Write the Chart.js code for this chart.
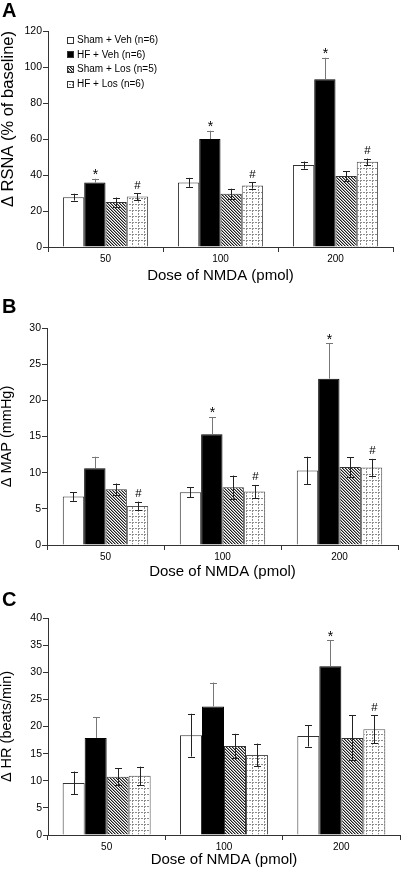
<!DOCTYPE html>
<html>
<head>
<meta charset="utf-8">
<script src="https://cdn.jsdelivr.net/npm/chart.js@4.4.1/dist/chart.umd.min.js"></script>
<style>
  html, body { margin: 0; padding: 0; background: #fff; }
  body { width: 406px; height: 872px; position: relative; overflow: hidden; font-family: "Liberation Sans", Arial, sans-serif; }
  .panel { position: absolute; left: 0; width: 406px; }
  .letter { position: absolute; left: 2px; font-weight: bold; font-size: 20px; line-height: 20px; color: #000; font-family: "Liberation Sans", Arial, sans-serif; }
</style>
</head>
<body>
<div class="panel" style="top:0;height:288px"><canvas id="cA" width="406" height="288"></canvas></div>
<div class="panel" style="top:288px;height:296px"><canvas id="cB" width="406" height="296"></canvas></div>
<div class="panel" style="top:584px;height:288px"><canvas id="cC" width="406" height="288"></canvas></div>
<div class="letter" style="top:0px">A</div>
<div class="letter" style="top:296px">B</div>
<div class="letter" style="top:589px">C</div>
<script>
// ---------------- DATA ----------------
const doses = ['50', '100', '200'];
const groupLabels = ['Sham + Veh (n=6)', 'HF + Veh (n=6)', 'Sham + Los (n=5)', 'HF + Los (n=6)'];

// Panel A: Δ RSNA (% of baseline)
const rsnaShamVeh    = [27.7, 35.9, 45.5];
const rsnaShamVehErr = [1.9, 2.5, 2.0];
const rsnaHFVeh      = [35.8, 60.0, 93.2];
const rsnaHFVehErr   = [2.1, 4.6, 11.9];
const rsnaShamLos    = [25.0, 29.6, 39.5];
const rsnaShamLosErr = [2.5, 2.8, 2.6];
const rsnaHFLos      = [28.0, 34.2, 47.3];
const rsnaHFLosErr   = [2.0, 1.8, 1.8];
const rsnaMarksHFVeh = ['*', '*', '*'];
const rsnaMarksHFLos = ['#', '#', '#'];

// Panel B: Δ MAP (mmHg)
const mapShamVeh    = [6.7, 7.3, 10.3];
const mapShamVehErr = [0.6, 0.7, 1.9];
const mapHFVeh      = [10.6, 15.3, 23.0];
const mapHFVehErr   = [1.6, 2.4, 4.9];
const mapShamLos    = [7.7, 8.0, 10.8];
const mapShamLosErr = [0.8, 1.6, 1.35];
const mapHFLos      = [5.4, 7.4, 10.7];
const mapHFLosErr   = [0.6, 0.9, 1.2];
const mapMarksHFVeh = ['', '*', '*'];
const mapMarksHFLos = ['#', '#', '#'];

// Panel C: Δ HR (beats/min)
const hrShamVeh    = [9.6, 18.4, 18.25];
const hrShamVehErr = [2.1, 3.95, 1.95];
const hrHFVeh      = [17.9, 23.7, 31.1];
const hrHFVehErr   = [3.8, 4.4, 4.8];
const hrShamLos    = [10.75, 16.4, 17.9];
const hrShamLosErr = [1.6, 2.25, 4.15];
const hrHFLos      = [10.9, 14.75, 19.5];
const hrHFLosErr   = [1.7, 2.1, 2.55];
const hrMarksHFVeh = ['', '', '*'];
const hrMarksHFLos = ['', '', '#'];

// ---------------- PATTERNS ----------------
function hatchPattern() {
  const c = document.createElement('canvas'); c.width = 3; c.height = 3;
  const g = c.getContext('2d');
  g.fillStyle = '#ffffff'; g.fillRect(0, 0, 3, 3);
  for (let i = 0; i < 3; i++) {
    g.fillStyle = '#1e1e1e'; g.fillRect(i, i, 1, 1);
    g.fillStyle = '#9a9a9a'; g.fillRect((i + 1) % 3, i, 1, 1);
  }
  return g.createPattern(c, 'repeat');
}
function gridPattern() {
  const n = 6;
  const c = document.createElement('canvas'); c.width = n; c.height = n;
  const g = c.getContext('2d');
  g.fillStyle = '#ffffff'; g.fillRect(0, 0, n, n);
  g.fillStyle = '#8c8c8c';
  [0, 1, 3, 4].forEach(i => { g.fillRect(i, 0, 1, 1); g.fillRect(0, i, 1, 1); });
  return g.createPattern(c, 'repeat');
}
const HATCH = hatchPattern();
const GRID = gridPattern();

const FONT = '"Liberation Sans", Arial, sans-serif';
const AXIS = '#333333';

// ---------------- PLUGINS ----------------
const errorBarPlugin = {
  id: 'errorBars',
  afterDatasetsDraw(chart) {
    const ctx = chart.ctx;
    const ys = chart.scales.y;
    chart.data.datasets.forEach((ds, di) => {
      const meta = chart.getDatasetMeta(di);
      meta.data.forEach((bar, i) => {
        const v = ds.data[i], e = ds.errors[i];
        const x = Math.round(bar.x) + 0.5;
        const yTop = ys.getPixelForValue(v + e);
        const yBot = ds.upOnly ? bar.y : ys.getPixelForValue(v - e);
        ctx.save();
        ctx.strokeStyle = ds.errColor;
        ctx.lineWidth = 1;
        ctx.beginPath();
        ctx.moveTo(x, yTop); ctx.lineTo(x, yBot);
        ctx.moveTo(x - 3.5, Math.round(yTop) + 0.5); ctx.lineTo(x + 3.5, Math.round(yTop) + 0.5);
        if (!ds.upOnly) { ctx.moveTo(x - 3.5, Math.round(yBot) + 0.5); ctx.lineTo(x + 3.5, Math.round(yBot) + 0.5); }
        ctx.stroke();
        const m = ds.marks ? ds.marks[i] : '';
        if (m) {
          ctx.fillStyle = '#000';
          ctx.textAlign = 'center';
          ctx.textBaseline = 'alphabetic';
          if (m === '*') { ctx.font = '14px ' + FONT; ctx.fillText(m, x, yTop + 0.5); }
          else { ctx.font = '11.5px ' + FONT; ctx.fillText(m, x, yTop - 4.5); }
        }
        ctx.restore();
      });
    });
  }
};

const legendPlugin = {
  id: 'panelLegend',
  afterDraw(chart, args, opts) {
    if (!opts || !opts.show) return;
    const ctx = chart.ctx;
    ctx.save();
    chart.data.datasets.forEach((ds, i) => {
      const cy = opts.y0 + i * opts.dy;
      const bx = opts.x, s = 7;
      ctx.fillStyle = ds.backgroundColor;
      ctx.fillRect(bx, Math.round(cy - s / 2), s, s);
      ctx.strokeStyle = '#333';
      ctx.lineWidth = 1;
      ctx.strokeRect(bx + 0.5, Math.round(cy - s / 2) + 0.5, s - 1, s - 1);
      ctx.fillStyle = '#000';
      ctx.font = '10px ' + FONT;
      ctx.textAlign = 'left';
      ctx.textBaseline = 'middle';
      ctx.fillText(ds.label, bx + 10, cy);
    });
    ctx.restore();
  }
};

// ---------------- BUILDER ----------------
function makeDatasets(vals, errs, marksHFVeh, marksHFLos) {
  return [
    { label: groupLabels[0], data: vals[0], errors: errs[0], backgroundColor: '#ffffff', borderColor: '#333333', errColor: '#222', marks: null },
    { label: groupLabels[1], data: vals[1], errors: errs[1], backgroundColor: '#000000', borderColor: '#000000', errColor: '#777', upOnly: true, marks: marksHFVeh },
    { label: groupLabels[2], data: vals[2], errors: errs[2], backgroundColor: HATCH, borderColor: '#333333', errColor: '#222', marks: null },
    { label: groupLabels[3], data: vals[3], errors: errs[3], backgroundColor: GRID, borderColor: '#555555', errColor: '#222', marks: marksHFLos }
  ].map(d => Object.assign(d, { borderWidth: 1, borderSkipped: 'bottom' }));
}

function makeChart(id, cfg) {
  return new Chart(document.getElementById(id), {
    type: 'bar',
    data: { labels: doses, datasets: cfg.datasets },
    plugins: [errorBarPlugin, legendPlugin],
    options: {
      responsive: false,
      animation: false,
      devicePixelRatio: 1,
      layout: { padding: { top: cfg.padTop, right: cfg.padRight, left: 0, bottom: 0 } },
      datasets: { bar: { categoryPercentage: cfg.catPct, barPercentage: 1.0 } },
      plugins: {
        legend: { display: false },
        tooltip: { enabled: false },
        panelLegend: cfg.legend || { show: false }
      },
      scales: {
        x: {
          type: 'category',
          offset: true,
          afterFit: (s) => { s.height = cfg.xH; },
          grid: { display: true, drawOnChartArea: false, drawTicks: true, tickLength: 5, offset: true, color: AXIS },
          border: { display: true, color: AXIS, width: 1 },
          ticks: { color: '#000', font: { family: FONT, size: 10 }, padding: 1 },
          title: { display: true, text: 'Dose of NMDA (pmol)', color: '#000', font: { family: FONT, size: 15, lineHeight: 1.2 }, padding: { top: 0, bottom: 3 } }
        },
        y: {
          min: 0, max: cfg.yMax,
          afterFit: (s) => { s.width = cfg.yW; },
          grid: { display: true, drawOnChartArea: false, drawTicks: true, tickLength: 5, color: AXIS },
          border: { display: true, color: AXIS, width: 1 },
          ticks: { stepSize: cfg.step, color: '#000', font: { family: FONT, size: 10.5 }, padding: 1 },
          title: { display: true, text: cfg.yTitle, align: cfg.yAlign, color: '#000', font: { family: FONT, size: cfg.yTitleSize, lineHeight: 1.0 }, padding: { top: 0, bottom: 0 } }
        }
      }
    }
  });
}

makeChart('cA', {
  datasets: makeDatasets([rsnaShamVeh, rsnaHFVeh, rsnaShamLos, rsnaHFLos], [rsnaShamVehErr, rsnaHFVehErr, rsnaShamLosErr, rsnaHFLosErr], rsnaMarksHFVeh, rsnaMarksHFLos),
  padTop: 31, padRight: 13, xH: 41, yW: 48, yMax: 120, step: 20, catPct: 0.74,
  yTitle: 'Δ RSNA (% of baseline)', yAlign: 'end', yTitleSize: 16.5,
  legend: { show: true, x: 67, y0: 40, dy: 14.8 }
});
makeChart('cB', {
  datasets: makeDatasets([mapShamVeh, mapHFVeh, mapShamLos, mapHFLos], [mapShamVehErr, mapHFVehErr, mapShamLosErr, mapHFLosErr], mapMarksHFVeh, mapMarksHFLos),
  padTop: 40, padRight: 8, xH: 39, yW: 47, yMax: 30, step: 5, catPct: 0.73,
  yTitle: 'Δ MAP (mmHg)', yAlign: 'center', yTitleSize: 14.5
});
makeChart('cC', {
  datasets: makeDatasets([hrShamVeh, hrHFVeh, hrShamLos, hrHFLos], [hrShamVehErr, hrHFVehErr, hrShamLosErr, hrHFLosErr], hrMarksHFVeh, hrMarksHFLos),
  padTop: 34, padRight: 6, xH: 37, yW: 48, yMax: 40, step: 5, catPct: 0.75,
  yTitle: 'Δ HR (beats/min)', yAlign: 'center', yTitleSize: 14.5
});
</script>
</body>
</html>
